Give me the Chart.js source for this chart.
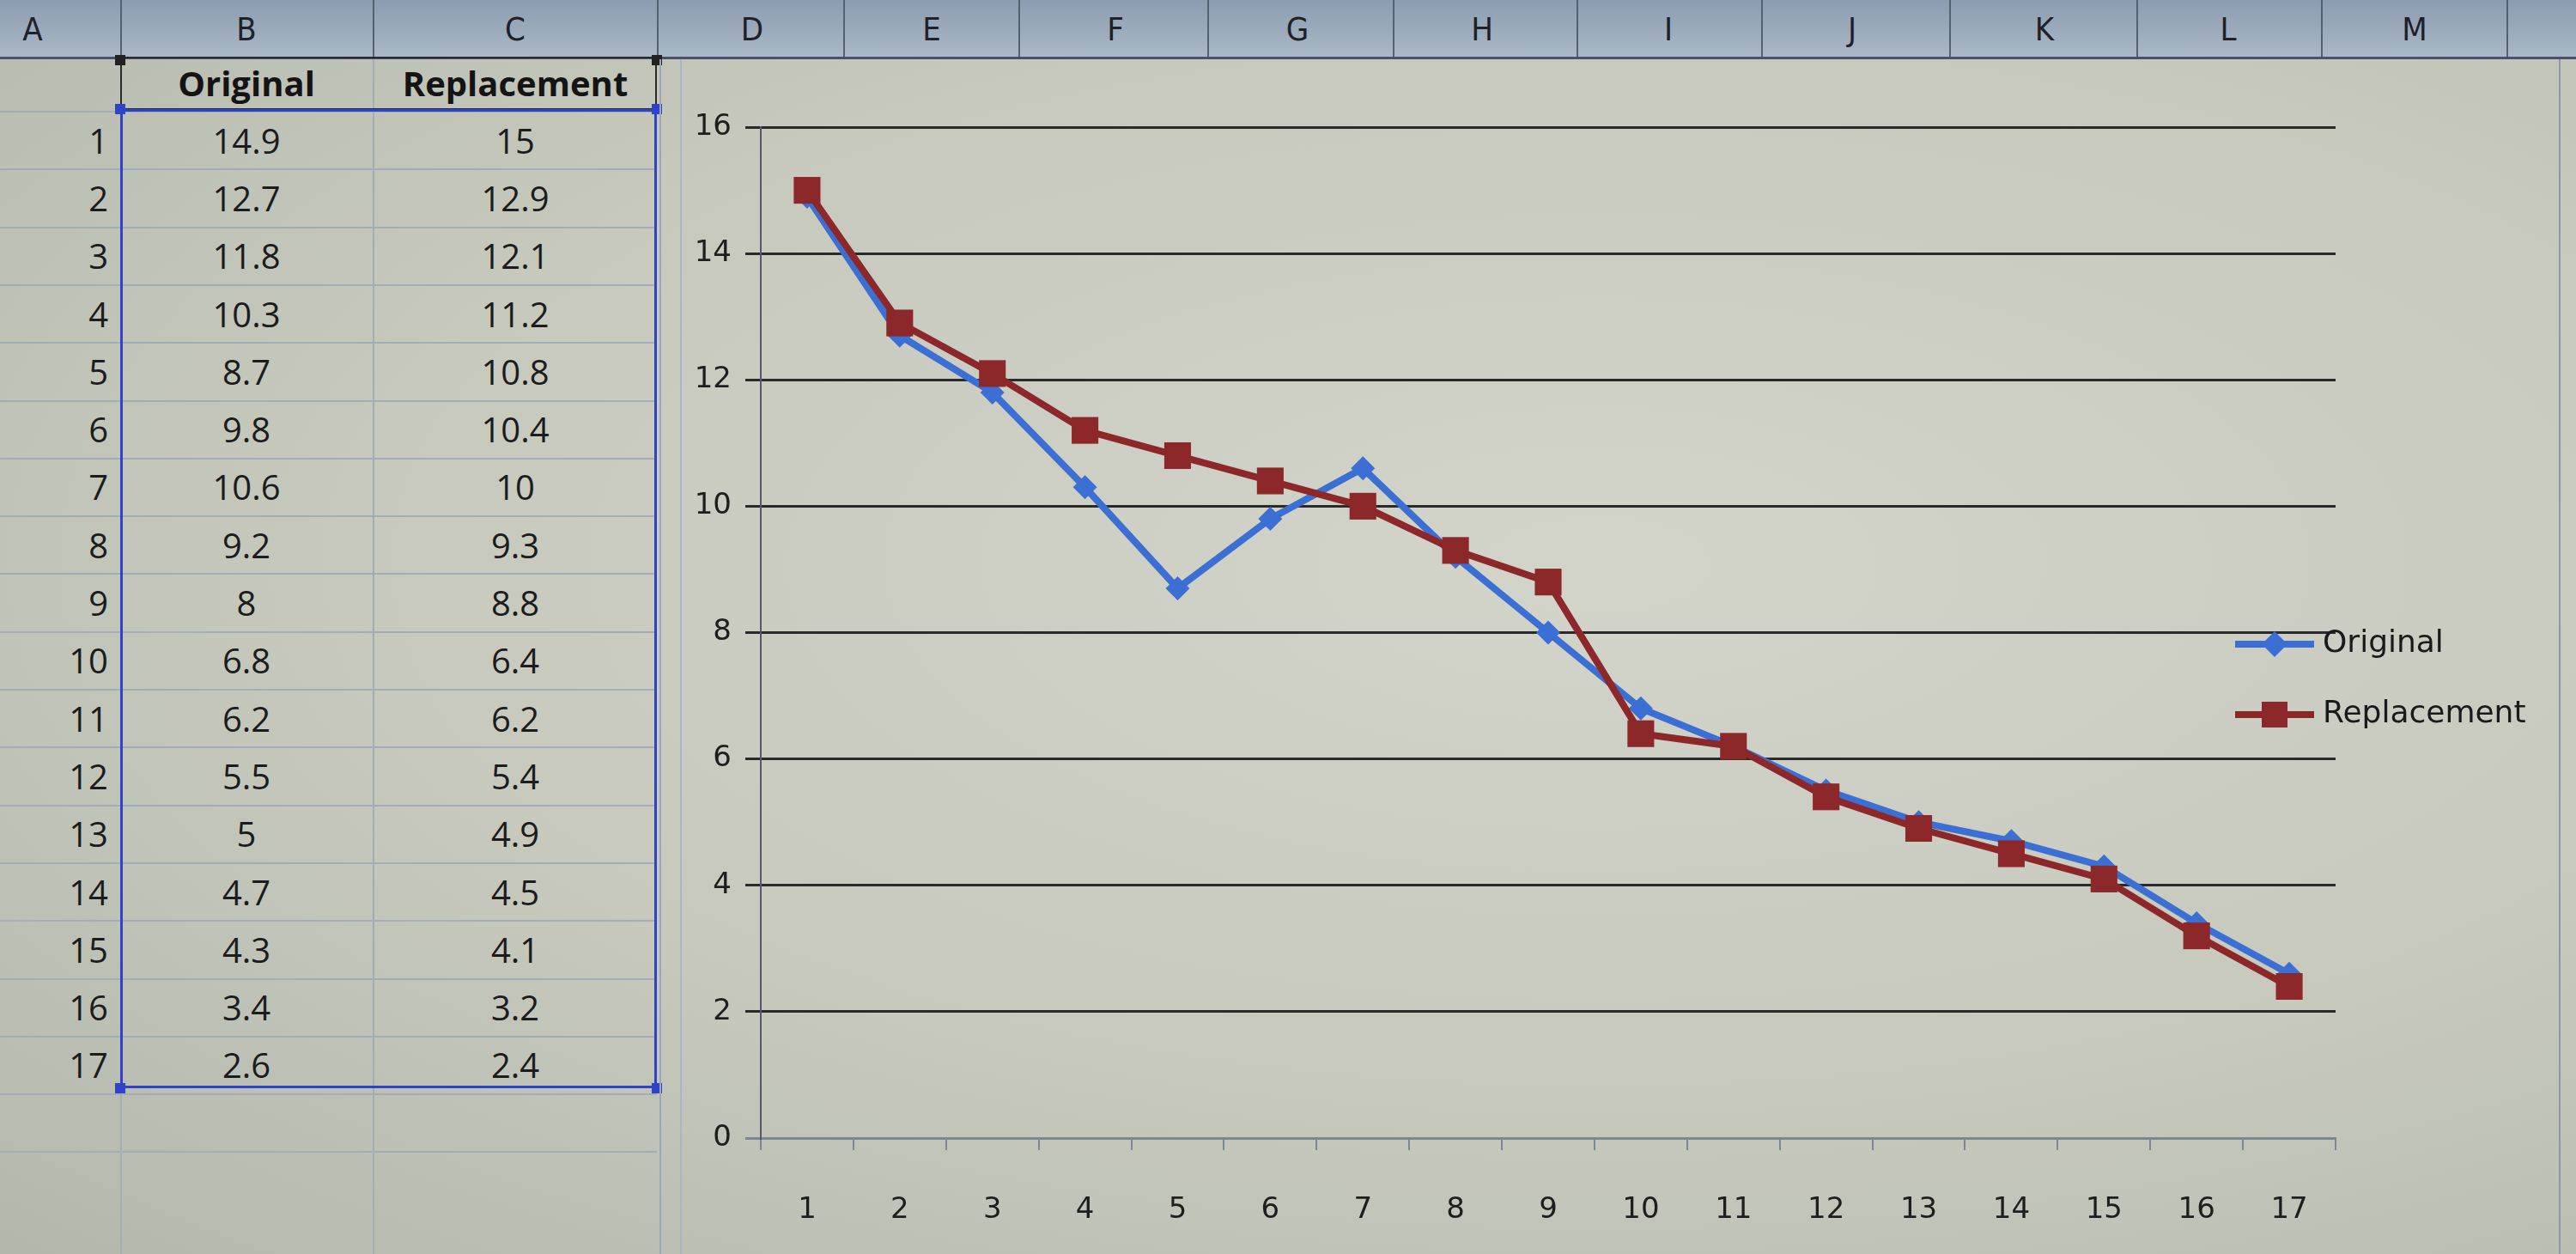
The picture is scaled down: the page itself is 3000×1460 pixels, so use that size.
<!DOCTYPE html>
<html><head><meta charset="utf-8">
<script src="https://cdn.jsdelivr.net/npm/chart.js@4.4.1/dist/chart.umd.min.js"></script>
<style>
html,body{margin:0;padding:0;}
#page{position:relative;width:3000px;height:1460px;overflow:hidden;
 background: radial-gradient(ellipse at 62% 45%, #d3d4ca 0%, #c7c9bd 55%, #b4b8ac 100%);
 font-family:"Liberation Sans Narrow","Open Sans",sans-serif;}
#hdr{position:absolute;left:0;top:0;width:3000px;height:66px;background:linear-gradient(#8c9cb0,#aab8c5);border-bottom:3px solid #46526f;}
.col{position:absolute;top:12px;font:38px "DejaVu Sans Condensed","DejaVu Sans",sans-serif;color:#1e2228;transform:translateX(-50%);}
.vsep{position:absolute;top:0;height:66px;width:2px;background:#56616f;}
.cell{position:absolute;font-size:40px;color:#1c1c1c;transform:translate(-50%,-50%);white-space:nowrap;}
.hcell{position:absolute;font-size:40px;font-weight:bold;color:#141414;transform:translate(-50%,-50%);white-space:nowrap;}
.rn{position:absolute;left:26px;width:100px;font-size:40px;color:#1c1c1c;transform:translateY(-50%);text-align:right;}
.hl{position:absolute;left:0;width:765px;height:2px;background:#a3adb6;}
.vl{position:absolute;top:69px;height:1391px;width:2px;background:#a3adb6;}
.handle{position:absolute;width:12px;height:12px;}
#chartbox{position:absolute;left:780px;top:66px;width:2220px;height:1394px;}
</style></head>
<body><div id="page">
<div id="hdr"></div>
<div id="sheet"></div>
<div class="vl" style="left:768px;background:#9aa8b8;"></div>
<div class="vl" style="left:792px;background:#a9b6c4;"></div>
<div style="position:absolute;left:2980px;top:69px;width:2px;height:1391px;background:#8f99a4;"></div>
<div id="chartbox"><canvas id="c" width="2220" height="1394"></canvas></div>
</div>
<script>
const columnLetters = ['A','B','C','D','E','F','G','H','I','J','K','L','M'];
const categories = ['1','2','3','4','5','6','7','8','9','10','11','12','13','14','15','16','17'];
const seriesNames = ['Original','Replacement'];
const originalValues = [14.9,12.7,11.8,10.3,8.7,9.8,10.6,9.2,8,6.8,6.2,5.5,5,4.7,4.3,3.4,2.6];
const replacementValues = [15,12.9,12.1,11.2,10.8,10.4,10,9.3,8.8,6.4,6.2,5.4,4.9,4.5,4.1,3.2,2.4];

// ---- spreadsheet (HTML) ----
const page = document.getElementById('page');
const hdr = document.getElementById('hdr');
const colCenters = [38,287,600,876,1085,1299,1511,1726,1943,2157,2381,2595,2812];
const colBounds = [140,434,765,982,1186,1406,1622,1836,2051,2270,2488,2703,2919];
columnLetters.forEach((l,i)=>{
  const d=document.createElement('div');d.className='col';d.style.left=colCenters[i]+'px';d.textContent=l;hdr.appendChild(d);
});
colBounds.forEach(x=>{const d=document.createElement('div');d.className='vsep';d.style.left=x+'px';hdr.appendChild(d);});
const sheet=document.getElementById('sheet');
function add(cls,html,style){const d=document.createElement('div');d.className=cls;if(html!==null)d.textContent=html;Object.assign(d.style,style);sheet.appendChild(d);return d;}
const rowH=67.3, firstBound=129;
for(let k=0;k<=18;k++){add('hl',null,{top:(firstBound+k*rowH)+'px'});}
add('vl',null,{left:'434px'});
add('vl',null,{left:'140px'});
add('hcell',seriesNames[0],{left:'287px',top:'96px'});
add('hcell',seriesNames[1],{left:'600px',top:'96px'});
categories.forEach((c,i)=>{
  const y=firstBound+rowH*(i+0.5);
  add('rn',c,{top:y+'px'});
  add('cell',String(originalValues[i]),{left:'287px',top:y+'px'});
  add('cell',String(replacementValues[i]),{left:'600px',top:y+'px'});
});
// selection outlines
add('x',null,{position:'absolute',left:'140px',top:'66px',width:'625px',height:'62px',border:'2px solid #2a2a2a',boxSizing:'border-box'});
add('x',null,{position:'absolute',left:'140px',top:'127px',width:'625px',height:'1140px',border:'3px solid #2f43c8',boxSizing:'border-box'});
[[134,121,'#2f43c8'],[759,121,'#2f43c8'],[134,1261,'#2f43c8'],[759,1261,'#2f43c8'],[134,64,'#222'],[759,64,'#222']].forEach(h=>{
  add('handle',null,{left:h[0]+'px',top:h[1]+'px',background:h[2]});
});

// ---- chart ----
const legendPlugin = {
  id:'excelLegend',
  afterDraw(chart){
    const c=chart.ctx;
    const ys=[684,766];
    chart.data.datasets.forEach((ds,i)=>{
      const y=ys[i], x0=1823, x1=1915, xm=(x0+x1)/2;
      c.save();
      c.strokeStyle=ds.borderColor;c.lineWidth=8;
      c.beginPath();c.moveTo(x0,y);c.lineTo(x1,y);c.stroke();
      c.fillStyle=ds.backgroundColor;
      c.beginPath();
      if(ds.pointStyle==='rectRot'){c.moveTo(xm,y-15);c.lineTo(xm+15,y);c.lineTo(xm,y+15);c.lineTo(xm-15,y);c.closePath();}
      else {c.rect(xm-15,y-15,30,30);}
      c.fill();
      c.fillStyle='#1a1a1a';c.font='36px "DejaVu Sans"';c.textBaseline='middle';c.textAlign='left';
      c.fillText(ds.label,1925,y);
      c.restore();
    });
  }
};
const tickFont={family:'"DejaVu Sans"',size:34};
new Chart(document.getElementById('c'),{
  type:'line',
  data:{labels:categories,datasets:[
    {label:seriesNames[0],data:originalValues,borderColor:'#3c6fd3',backgroundColor:'#3c6fd3',borderWidth:8,
     pointStyle:'rectRot',pointRadius:14,pointBorderWidth:0,tension:0,order:2},
    {label:seriesNames[1],data:replacementValues,borderColor:'#8c2829',backgroundColor:'#8c2829',borderWidth:8,
     pointStyle:'rect',pointRadius:22,pointBorderWidth:0,tension:0,order:1}
  ]},
  options:{
    responsive:false,animation:false,
    layout:{padding:{left:0,top:82,right:280,bottom:0}},
    plugins:{legend:{display:false},tooltip:{enabled:false}},
    scales:{
      x:{offset:true,
         grid:{display:true,offset:true,drawOnChartArea:false,drawTicks:true,tickLength:14,color:'#7d8794',lineWidth:2},
         border:{display:true,color:'#7d8794',width:3},
         ticks:{font:tickFont,color:'#1e1e1e',padding:50,maxRotation:0,autoSkip:false},
         afterFit(s){s.height=135;}},
      y:{min:0,max:16,
         ticks:{stepSize:2,font:tickFont,color:'#1e1e1e',padding:16},
         grid:{color:(ctx)=>ctx.tick && ctx.tick.value===0?'#7d8794':'#2a2a2a',lineWidth:3,tickLength:18},
         border:{display:true,color:'#555a62',width:2},
         afterFit(s){s.width=106;}}
    }
  },
  plugins:[legendPlugin]
});
</script>
</body></html>
